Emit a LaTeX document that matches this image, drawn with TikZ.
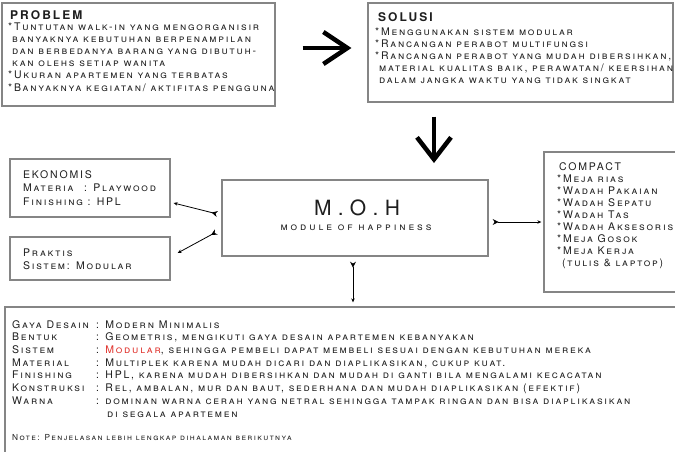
\documentclass[tikz,border=0pt]{standalone}
\usepackage{fontspec}
\setmainfont{TeX Gyre Heros}[LetterSpace=17]
\usetikzlibrary{arrows.meta,calc}
\definecolor{boxc}{HTML}{858585}
\definecolor{txtc}{HTML}{1E1E1E}
\definecolor{redc}{HTML}{E0302A}
\begin{document}
\begin{tikzpicture}[x=1pt,y=-1pt,
 box/.style={draw=boxc,line width=1.3pt,inner sep=0,fill=white},
 txt/.style={anchor=base west,inner sep=0,text=txtc,font=\fontsize{10.5}{12}\selectfont\scshape},
 ttl/.style={txt,font=\fontsize{12}{14}\selectfont\bfseries\scshape},
 note/.style={txt,font=\fontsize{8.3}{10}\selectfont\scshape},
 conn/.style={line width=0.8pt,black,{Stealth[reversed,length=6pt,width=6pt]}-{Stealth[length=4pt,width=3.5pt]}},
 bigline/.style={line width=4.5pt,black},
 chev/.style={line width=4.5pt,black,line join=miter,line cap=butt}
]
\clip (0,0) rectangle (675,451);
\fill[white] (0,0) rectangle (675,451);

% boxes
\node[box,minimum width=273pt,minimum height=103pt] (prob) at (138.5,54.5) {};
\node[box,minimum width=305pt,minimum height=99pt] (sol) at (520.5,52.5) {};
\node[box,minimum width=160pt,minimum height=58pt] (eko) at (90,188) {};
\node[box,minimum width=160pt,minimum height=43pt] (prak) at (90,258.5) {};
\node[box,minimum width=266pt,minimum height=76pt] (moh) at (355,218) {};
\node[box,minimum width=136pt,minimum height=140pt] (comp) at (612,222) {};
\node[box,minimum width=677pt,minimum height=150pt] (bot) at (343.5,382) {};

% problem
\node[ttl] (pt) at (10,19) {PROBLEM};
\node[txt] (p1) at (8,30) {*Tuntutan walk-in yang mengorganisir};
\node[txt] (p2) at (12,42) {banyaknya kebutuhan berpenampilan};
\node[txt] (p3) at (12,54) {dan berbedanya barang yang dibutuh-};
\node[txt] (p4) at (12,66) {kan olehs setiap wanita};
\node[txt] (p5) at (8,78.5) {*Ukuran apartemen yang terbatas};
\node[txt] (p6) at (8,91) {*Banyaknya kegiatan/ aktifitas pengguna};

% solusi
\node[ttl] (st) at (378,21) {SOLUSI};
\node[txt] (s1) at (375,35) {*Menggunakan sistem modular};
\node[txt] (s2) at (375,47) {*Rancangan perabot multifungsi};
\node[txt] (s3) at (375,59) {*Rancangan perabot yang mudah dibersihkan,};
\node[txt] (s4) at (379,71) {material kualitas baik, perawatan/ keersihan};
\node[txt] (s5) at (379,83) {dalam jangka waktu yang tidak singkat};

% ekonomis
\node[txt] (et) at (23,178) {EKONOMIS};
\node[txt] (e1) at (23,191.5) {Materia};
\node[txt] (e1v) at (84,191.5) {: Playwood};
\node[txt] (e2) at (23,205.5) {Finishing : HPL};

% praktis
\node[txt] (kt) at (23,256.5) {Praktis};
\node[txt] (k1) at (23,269.5) {Sistem: Modular};

% moh
\node[inner sep=0,text=txtc,font=\fontsize{21}{24}\selectfont\addfontfeatures{LetterSpace=30}] (mt) at (357,208) {M.O.H};
\node[inner sep=0,text=txtc,font=\fontsize{10.5}{12}\selectfont\scshape\addfontfeatures{LetterSpace=28}] (ms) at (356,228) {module of happiness};

% compact
\node[txt] (ct) at (559,170) {COMPACT};
\foreach \t [count=\i] in {{*Meja rias},{*Wadah Pakaian},{*Wadah Sepatu},{*Wadah Tas},{*Wadah Aksesoris},{*Meja Gosok},{*Meja Kerja}}
  \node[txt] (c\i) at (557,{170+12*\i}) {\t};
\node[txt] (c8) at (562,266) {(tulis \& laptop)};

% bottom
\foreach \l/\v [count=\i] in {{Gaya Desain}/{Modern Minimalis},
  {Bentuk}/{Geometris, mengikuti gaya desain apartemen kebanyakan},
  {Sistem}/{\textcolor{redc}{Modular}, sehingga pembeli dapat membeli sesuai dengan kebutuhan mereka},
  {Material}/{Multiplek karena mudah dicari dan diaplikasikan, cukup kuat.},
  {Finishing}/{HPL, karena mudah dibersihkan dan mudah di ganti bila mengalami kecacatan},
  {Konstruksi}/{Rel, ambalan, mur dan baut, sederhana dan mudah diaplikasikan (efektif)},
  {Warna}/{dominan warna cerah yang netral sehingga tampak ringan dan bisa diaplikasikan}}
{
  \node[txt] (bl\i) at (12,{328+12.7*(\i-1)}) {\l};
  \node[txt] (bv\i) at (96,{328+12.7*(\i-1)}) {: \v};
}
\node[txt] (bv8) at (107,417) {di segala apartemen};
\node[note] (bn) at (12,440) {Note: Penjelasan lebih lengkap dihalaman berikutnya};

% big arrows
\coordinate (r1) at ([shift={(27,-6.5)}]prob.east);
\coordinate (r2) at ([shift={(-20,-4.5)}]sol.west);
\draw[bigline] (r1) -- ([xshift=-3pt]r2);
\draw[chev] ([shift={(-24,-16)}]r2) -- (r2) -- ([shift={(-24,16)}]r2);
\coordinate (d1) at ([shift={(-86.5,14)}]sol.south);
\coordinate (d2) at ([shift={(79,-20)}]moh.north);
\draw[bigline] (d1) -- ([yshift=3pt]d2);
\draw[chev] ([shift={(-17,-22)}]d2) -- (d2) -- ([shift={(17,-22)}]d2);

% connectors
\draw[conn] ([shift={(-4,-4)}]moh.west) -- ([shift={(3,15)}]eko.east);
\draw[conn] ([shift={(-5,14)}]moh.west) -- ([shift={(7,-5.5)}]prak.east);
\draw[conn] ([shift={(4,4)}]moh.east) -- ([shift={(-2,0)}]comp.west);
\draw[conn] ([shift={(-2,5)}]moh.south) -- ([shift={(-2,-4)}]moh.south |- bot.north);
\end{tikzpicture}
\end{document}
